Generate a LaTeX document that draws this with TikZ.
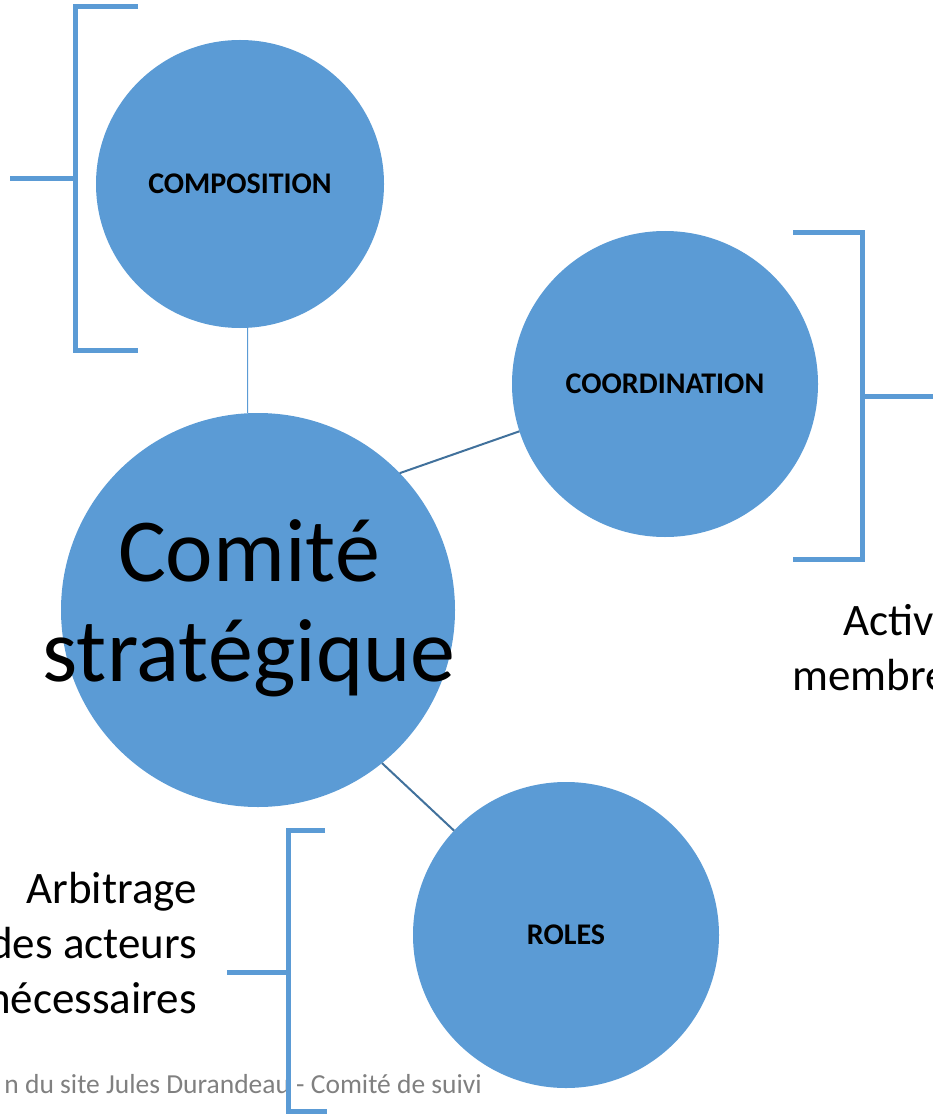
\documentclass[tikz,border=0pt]{standalone}
\usepackage{fontspec}
\setmainfont{Carlito}
\definecolor{bubblue}{HTML}{5B9BD5}
\definecolor{linkblue}{HTML}{41719C}

\begin{document}
\begin{tikzpicture}[
	x=1pt,y=-1pt,
	bubble/.style={circle,fill=bubblue,inner sep=0pt,outer sep=0pt,minimum size=306pt,font=\bfseries\fontsize{30}{36}\selectfont},
	bigbubble/.style={bubble,minimum size=394pt},
	sidetxt/.style={inner sep=0pt,font=\fontsize{45}{55}\selectfont},
	bracket/.style={draw=bubblue,line width=5pt},
	link/.style={draw=linkblue,line width=2pt}
	]
	\useasboundingbox (0,0) rectangle (933,1115);
	\clip (0,0) rectangle (933,1115);

	% footer sits under the bottom bracket
	\node[inner sep=0pt,anchor=base east,text=black!50,font=\fontsize{27.5}{33}\selectfont] (footer) at (482,1093) {n du site Jules Durandeau - Comité de suivi};

	% circles
	\node[bigbubble] (main) at (258,610) {};
	\node[bubble,minimum size=288pt] (comp) at (240,184) {COMPOSITION};
	\node[bubble] (coord) at (665,384) {COORDINATION};
	\node[bubble] (roles) at (566,935) {ROLES};
	\node[align=center,inner sep=0pt,font=\fontsize{90}{100}\selectfont] (mainlbl) at (249,608) {Comité\\stratégique};

	% links
	\draw[draw=bubblue,line width=1pt] (comp.-87) -- (main.93);
	\draw[link] (main.44) -- (coord.198);
	\draw[link] (main.-51) -- (roles.137);

	% brackets
	\draw[bracket] (138,7) -- (75,7) -- (75,350) -- (138,350);
	\draw[bracket] (10,179) -- (75,179);
	\draw[bracket] (793,233) -- (862,233) -- (862,559) -- (793,559);
	\draw[bracket] (862,396) -- (940,396);
	\draw[bracket] (325,830) -- (288,830) -- (288,1111) -- (327,1111);
	\draw[bracket] (227,972) -- (288,972);

	% side texts
	\node[sidetxt,anchor=base west] (act1) at (843,635) {Activ};
	\node[sidetxt,anchor=base west] (act2) at (792,690) {membre};
	\node[sidetxt,anchor=base east] (arb1) at (197,903) {Arbitrage};
	\node[sidetxt,anchor=base east] (arb2) at (197,958) {des acteurs};
	\node[sidetxt,anchor=base east] (arb3) at (197,1013) {nécessaires};
\end{tikzpicture}
\end{document}
